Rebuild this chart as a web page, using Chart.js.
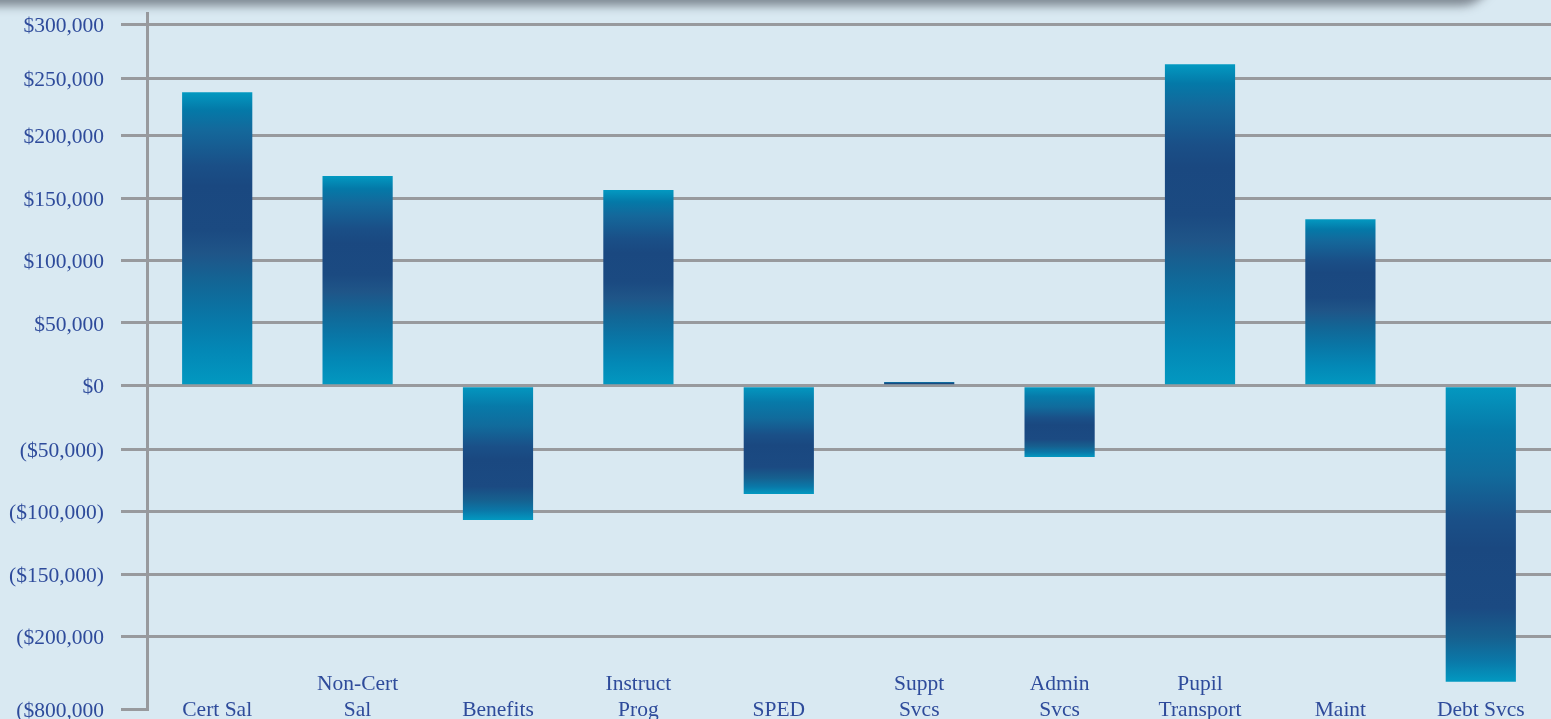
<!DOCTYPE html>
<html>
<head>
<meta charset="utf-8">
<script src="https://cdn.jsdelivr.net/npm/chart.js@4/dist/chart.umd.min.js"></script>
<style>
  html, body { margin: 0; padding: 0; width: 1551px; height: 719px; overflow: hidden; background: #d9e9f2; }
  #wrap { position: absolute; left: 0; top: 0; width: 1551px; height: 719px; }
  #shade { position: absolute; left: -40px; top: -40px; width: 1530px; height: 40px; background: #80868e;
           box-shadow: 0 3px 10px 3px rgba(118,126,136,0.9); border-bottom-right-radius: 30px; z-index: 2; }
  canvas { position: absolute; left: 0; top: 0; }
</style>
</head>
<body>
<div id="wrap">
  <canvas id="chart" width="1551" height="719"></canvas>
  <div id="shade"></div>
</div>
<script>
// ---- data ----
const categories = ['Cert Sal', 'Non-Cert\nSal', 'Benefits', 'Instruct\nProg', 'SPED',
                    'Suppt\nSvcs', 'Admin\nSvcs', 'Pupil\nTransport', 'Maint', 'Debt Svcs'];
const varianceValues = [237800, 167700, -106900, 156500, -86100, 3000, -56400, 263000, 133100, -231200];
const yTickValues = [300000, 250000, 200000, 150000, 100000, 50000, 0, -50000, -100000, -150000, -200000, -250000];
const yTickLabels = ['$300,000', '$250,000', '$200,000', '$150,000', '$100,000', '$50,000', '$0',
                     '($50,000)', '($100,000)', '($150,000)', '($200,000', '($800,000'];

// ---- styles ----
const textColor = '#2e4b9b';
const gridGray = '#989a9e';
const fontFamily = "'Liberation Serif', 'Times New Roman', serif";
const posStops = [[0, '#0399c1'], [0.06, '#0479a8'], [0.13, '#14689b'], [0.25, '#1a4f87'], [0.32, '#1a4880'],
                  [0.47, '#1b4a81'], [0.55, '#1f5588'], [0.65, '#126696'], [0.76, '#0976a6'], [0.88, '#0388b6'], [1, '#0299c1']];
const negStops = [[0, '#0399c1'], [0.15, '#077aa9'], [0.3, '#116b9c'], [0.45, '#1a5088'], [0.55, '#1a4880'],
                  [0.75, '#1b4a82'], [0.85, '#16608f'], [0.93, '#0a78a8'], [1, '#0299c1']];

// ---- a linear scale whose tick bands can have unequal heights (as in the original artwork) ----
const BaseLinear = Chart.LinearScale || Chart.registry.getScale('linear');
class BandedLinearScale extends BaseLinear {
  _bandSetup() {
    const vals = Array.from(this.options.bandValues);
    const w = Array.from(this.options.bandWeights);
    const cum = [0];
    for (let i = 0; i < w.length; i++) cum.push(cum[i] + w[i]);
    return { vals, w, cum, total: cum[cum.length - 1] };
  }
  _decimalFor(value) {
    const { vals, w, cum, total } = this._bandSetup();
    let i = 0;
    while (i < vals.length - 2 && value > vals[i + 1]) i++;
    const f = (value - vals[i]) / (vals[i + 1] - vals[i]);
    return (cum[i] + f * w[i]) / total;
  }
  getPixelForValue(value) {
    if (value === null || value === undefined || isNaN(value)) return NaN;
    return this.getPixelForDecimal(this._decimalFor(value));
  }
  getValueForPixel(pixel) {
    const d = this.getDecimalForPixel(pixel);
    const { vals, w, cum, total } = this._bandSetup();
    const t = d * total;
    let i = 0;
    while (i < w.length - 1 && t > cum[i + 1]) i++;
    return vals[i] + (t - cum[i]) / w[i] * (vals[i + 1] - vals[i]);
  }
}
BandedLinearScale.id = 'banded';
BandedLinearScale.defaults = {};
Chart.register(BandedLinearScale);

function barGradient(context) {
  const chart = context.chart;
  const yScale = chart.scales && chart.scales.y;
  if (!yScale || context.type !== 'data') return '#1b4a80';
  const v = context.raw;
  const top = yScale.getPixelForValue(Math.max(v, 0));
  const bottom = yScale.getPixelForValue(Math.min(v, 0));
  if (!isFinite(top) || !isFinite(bottom)) return '#1b4a80';
  const g = chart.ctx.createLinearGradient(0, top, 0, bottom + 0.01);
  (v >= 0 ? posStops : negStops).forEach(([o, c]) => g.addColorStop(o, c));
  return g;
}

const yMin = yTickValues[yTickValues.length - 1];
const yMax = 310000;

new Chart(document.getElementById('chart'), {
  type: 'bar',
  data: {
    labels: categories,
    datasets: [{
      data: varianceValues,
      backgroundColor: barGradient,
      borderWidth: 0,
      barPercentage: 0.5,
      categoryPercentage: 1.0
    }]
  },
  options: {
    responsive: false,
    animation: false,
    events: [],
    layout: { padding: { left: 0, top: 13, right: 0, bottom: 0 } },
    plugins: { legend: { display: false }, tooltip: { enabled: false }, title: { display: false } },
    scales: {
      x: {
        type: 'category',
        offset: true,
        grid: { display: false },
        border: { display: false },
        ticks: {
          color: textColor,
          font: { family: fontFamily, size: 21.5, lineHeight: '26px' },
          padding: -46,
          maxRotation: 0,
          minRotation: 0,
          autoSkip: false,
          callback: (value, index) => {
            const lines = categories[index].split('\n');
            while (lines.length < 2) lines.unshift('');
            return lines;
          }
        },
        afterFit: (s) => {
          s.height = 10; s.paddingLeft = 0; s.paddingRight = 0;
          s._computeLabelArea = () => null;   // let labels rise into the plot, as in the original
        }
      },
      y: {
        type: 'banded',
        min: yMin,
        max: yMax,
        bounds: 'data',
        bandValues: [...yTickValues].reverse().concat([yMax]),
        bandWeights: [72.7, 62.3, 62.7, 62.3, 63.3, 63.0, 62.7, 62.0, 62.7, 57.3, 54.0, 11.3],
        grid: {
          color: (ctx) => (ctx.tick && ctx.tick.value === yMin) ? 'rgba(0,0,0,0)' : gridGray,
          tickColor: gridGray,
          lineWidth: 3,
          tickLength: 26,
          drawTicks: true,
          drawOnChartArea: true
        },
        border: { display: true, color: gridGray, width: 3 },
        ticks: {
          color: textColor,
          font: { family: fontFamily, size: 21.5 },
          padding: 17,
          labelOffset: 2,
          autoSkip: false,
          callback: (value) => {
            const i = yTickValues.indexOf(value);
            return i >= 0 ? yTickLabels[i] : '';
          }
        },
        afterBuildTicks: (s) => { s.ticks = yTickValues.map(v => ({ value: v })); },
        afterFit: (s) => { s.width = 147; s.paddingTop = 0; s.paddingBottom = 0; }
      }
    }
  }
});
</script>
</body>
</html>
